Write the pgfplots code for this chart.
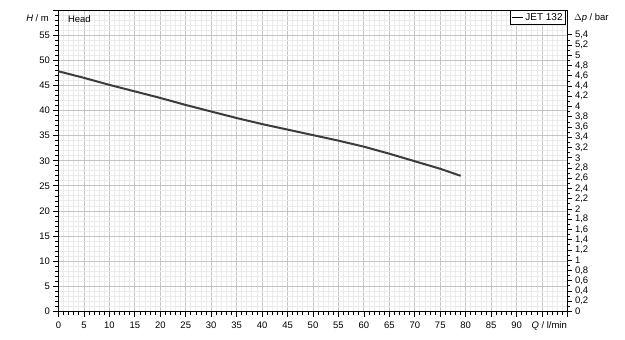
\documentclass[border=0pt]{standalone}
\usepackage{pgfplots}
\pgfplotsset{compat=1.18}
\usepackage{fontspec}
\setmainfont{Liberation Sans}
\definecolor{curve}{HTML}{3C3C3C}
\definecolor{majgrid}{HTML}{C4C4C4}
\definecolor{mingrid}{HTML}{EBEBEB}
\pgfplotstableread{
Q H
0 47.8
5 46.5
10 45.1
15 43.8
20 42.5
25 41.1
30 39.8
35 38.5
40 37.3
45 36.2
50 35.1
55 34.0
60 32.8
65 31.4
70 29.9
75 28.4
79 27.0
}\headdata
\begin{document}
\begin{tikzpicture}[font=\fontsize{9.5}{10}\selectfont]
\begin{axis}[name=main, at={(0,0)}, anchor=south west,
  scale only axis, width=509bp, height=301.5bp,
  xmin=0, xmax=100, ymin=0, ymax=60, clip=false,
  xtick={0,5,...,100}, ytick={0,5,...,60},
  xticklabels={0,5,10,15,20,25,30,35,40,45,50,55,60,65,70,75,80,85,90,{},{}},
  yticklabels={0,5,10,15,20,25,30,35,40,45,50,55,{}},
  minor x tick num=4, minor y tick num=4,
  grid=both,
  major grid style={majgrid, line width=0.9bp},
  minor grid style={mingrid, line width=0.9bp},
  axis line style={black, line width=0.9bp},
  tick align=outside, xtick pos=bottom, ytick pos=left,
  major tick length=5bp, minor tick length=3bp,
  every tick/.style={black, line width=0.8bp},
  /pgf/number format/assume math mode=true,
  xticklabel style={font=\fontsize{9.5}{10}\selectfont, yshift=-1.5bp},
  yticklabel style={font=\fontsize{9.5}{10}\selectfont},
  legend style={at={(rel axis cs:0.997,1)}, anchor=north east, draw=black, line width=0.8bp,
    inner sep=1bp, font=\fontsize{10}{10}\selectfont, legend cell align=left},
  legend image code/.code={\draw[black, line width=0.6bp] (0bp,0bp) -- (11bp,0bp);},
]
\addplot[curve, line width=2bp] table[x=Q, y=H] {\headdata};
\addlegendentry{JET 132}
\node[anchor=west] at (rel axis cs:0.012,0.97) {Head};
\node[anchor=east] at (rel axis cs:-0.012,0.972) {\textit{H} / m};
\node[anchor=west] at (rel axis cs:1.006,0.972) {$\Delta$\textit{p} / bar};
\node[anchor=north] at (axis cs:96.4,0) [yshift=-7bp] {\textit{Q} / l/min};
\end{axis}
\begin{axis}[at={(0,0)}, anchor=south west,
  scale only axis, width=509bp, height=301.5bp,
  xmin=0, xmax=100, ymin=0, ymax=5.884,
  axis x line=none, axis y line*=right,
  ytick={0,0.2,0.4,0.6,0.8,1,1.2,1.4,1.6,1.8,2,2.2,2.4,2.6,2.8,3,3.2,3.4,3.6,3.8,4,4.2,4.4,4.6,4.8,5,5.2,5.4},
  minor y tick num=1,
  tick align=outside,
  major tick length=4bp, minor tick length=2.5bp,
  every tick/.style={black, line width=0.8bp},
  axis line style={black, line width=0.9bp},
  /pgf/number format/.cd, use comma, assume math mode=true,
  /pgfplots/.cd,
  yticklabel style={font=\fontsize{9.5}{10}\selectfont},
]
\addplot[draw=none] coordinates {(0,0)};
\end{axis}
\path (main.south west) ++(-58.5bp,-28.5bp) rectangle ++(625bp,340bp);
\end{tikzpicture}
\end{document}
